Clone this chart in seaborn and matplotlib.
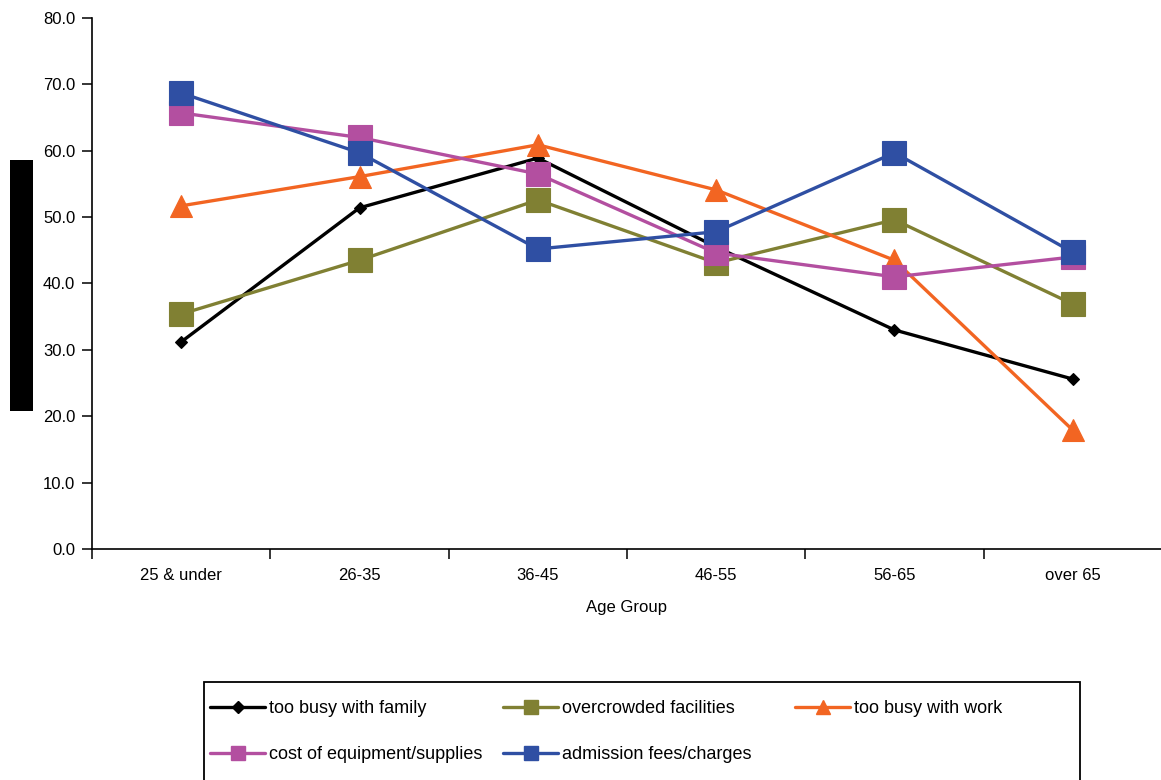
import matplotlib
matplotlib.use("Agg")
import matplotlib.pyplot as plt
from matplotlib.lines import Line2D
from matplotlib.patches import Rectangle
import numpy as np
import pandas as pd
import seaborn as sns

# Age groups on the x axis
age_groups = ["25 & under", "26-35", "36-45", "46-55", "56-65", "over 65"]

# Percentage of respondents citing each barrier, per age group
too_busy_family = [31.2, 51.4, 58.9, 45.5, 33.0, 25.6]
overcrowded = [35.4, 43.5, 52.6, 43.1, 49.6, 36.9]
too_busy_work = [51.7, 56.1, 60.9, 54.1, 43.5, 17.9]
cost_equipment = [65.7, 62.0, 56.5, 44.6, 41.0, 44.0]
admission_fees = [68.7, 59.7, 45.2, 47.8, 59.7, 44.7]

series_names = [
    "too busy with family",
    "overcrowded facilities",
    "too busy with work",
    "cost of equipment/supplies",
    "admission fees/charges",
]
series_values = [too_busy_family, overcrowded, too_busy_work, cost_equipment, admission_fees]
y_ticks = [0, 10, 20, 30, 40, 50, 60, 70, 80]

colors = ["#000000", "#808033", "#f26522", "#b34fa0", "#2f4fa3"]
markers = ["D", "s", "^", "s", "s"]
marker_sizes = [6.5, 17, 15.5, 17, 17]
legend_marker_sizes = [6.5, 10, 10, 10, 10]

rows = []
for name, vals in zip(series_names, series_values):
    for i, v in enumerate(vals):
        rows.append({"pos": i, "value": v, "series": name})
df = pd.DataFrame(rows)

sns.set_style("white")
plt.rcParams["font.family"] = ["Liberation Sans", "DejaVu Sans"]
plt.rcParams["text.color"] = "black"
plt.rcParams["axes.labelcolor"] = "black"
plt.rcParams["xtick.color"] = "black"
plt.rcParams["ytick.color"] = "black"

W, H = 1161, 780
fig = plt.figure(figsize=(W / 100, H / 100), dpi=100)
ax = fig.add_axes([92 / W, (H - 549) / H, (1162 - 92) / W, (549 - 18) / H])

for name, color, mk, ms in zip(series_names, colors, markers, marker_sizes):
    sub = df[df["series"] == name]
    sns.lineplot(
        data=sub, x="pos", y="value", ax=ax, color=color, linewidth=2.4,
        marker=mk, markersize=ms, markeredgecolor=color, markeredgewidth=0.8,
        legend=False, errorbar=None,
    )

ax.set_xlim(-0.5, len(age_groups) - 0.5)
ax.set_ylim(0, 80)
ax.set_yticks(y_ticks)
ax.set_yticklabels([f"{t:.1f}" for t in y_ticks], fontsize=12)

# category boundaries carry the tick marks, labels sit at the centres
ax.set_xticks(np.arange(-0.5, len(age_groups) + 0.5, 1.0))
ax.set_xticklabels([])
ax.set_xticks(np.arange(len(age_groups)), minor=True)
ax.set_xticklabels(age_groups, minor=True, fontsize=12)
ax.tick_params(axis="x", which="major", direction="out", length=7, width=1.1, color="black", bottom=True)
ax.tick_params(axis="x", which="minor", length=0, pad=14)
ax.tick_params(axis="y", direction="out", length=7, width=1.1, color="black", left=True, pad=5)

ax.set_xlabel("Age Group", fontsize=12, labelpad=12, color="black")
ax.set_ylabel("")
for side in ["top", "right"]:
    ax.spines[side].set_visible(False)
for side in ["left", "bottom"]:
    ax.spines[side].set_color("black")
    ax.spines[side].set_linewidth(1.2)
ax.grid(False)

# vertical bar beside the y axis
fig.patches.append(Rectangle((10 / W, (H - 411) / H), 23 / W, 251 / H,
                             transform=fig.transFigure, facecolor="black",
                             edgecolor="none"))

# legend frame, running past the lower edge of the figure
fig.patches.append(Rectangle((204 / W, (H - 820) / H), (1080 - 204) / W, (820 - 682) / H,
                             transform=fig.transFigure, facecolor="white",
                             edgecolor="black", linewidth=1.3, zorder=0))

handles = [
    Line2D([], [], color=c, linewidth=2.4, marker=m, markersize=s,
           markeredgecolor=c)
    for c, m, s in zip(colors, markers, legend_marker_sizes)
]

columns = [([0, 3], 210), ([1, 4], 503), ([2], 795)]
for idxs, xpix in columns:
    leg = fig.legend(
        [handles[i] for i in idxs], [series_names[i] for i in idxs],
        loc="upper left", bbox_to_anchor=(xpix / W, (H - 700) / H),
        frameon=False, fontsize=13, borderpad=0, borderaxespad=0,
        handlelength=3.05, handletextpad=0.2, labelspacing=1.6,
    )
    for t in leg.get_texts():
        t.set_color("black")

fig.savefig("out.png", dpi=100)
